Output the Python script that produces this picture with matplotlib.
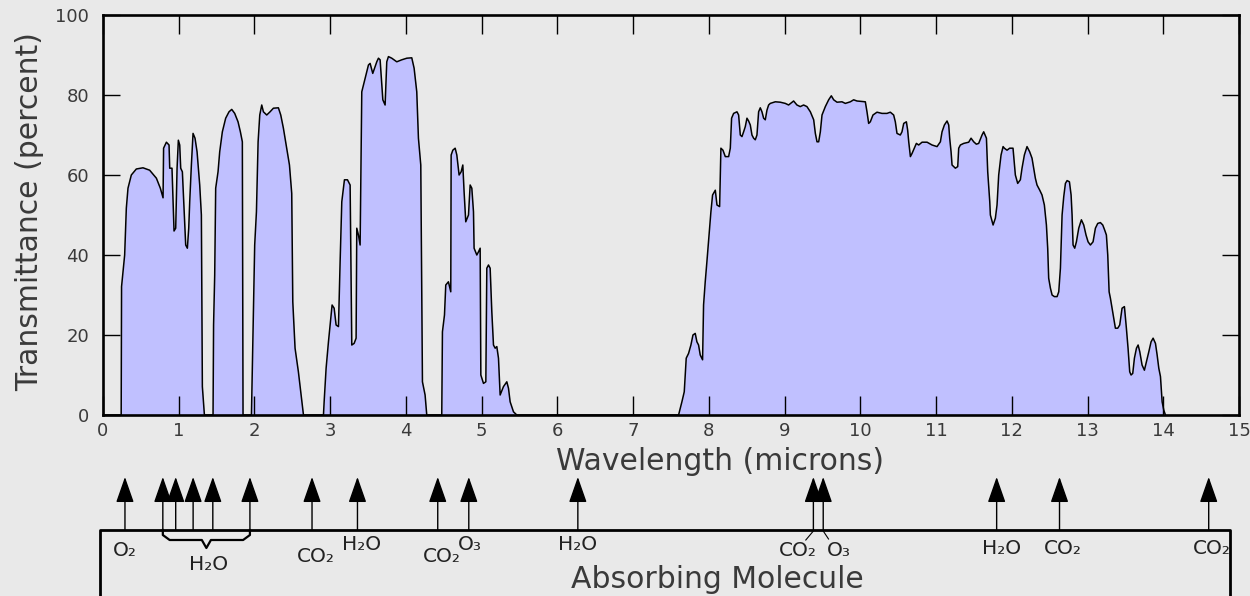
import matplotlib
matplotlib.use('Agg')
import matplotlib.pyplot as plt
from matplotlib.transforms import blended_transform_factory
from matplotlib.lines import Line2D

# transmittance curve, one window per list
# 0.2 - 2.7 microns
wl_near = [0.0, 0.24, 0.245, 0.286, 0.308, 0.33, 0.374, 0.44, 0.528, 0.616, 0.705, 0.757, 0.793,
           0.80, 0.837, 0.872, 0.881, 0.911, 0.925, 0.938, 0.96, 0.978, 0.995, 1.013, 1.026,
           1.048, 1.066, 1.092, 1.114, 1.132, 1.145, 1.167, 1.189, 1.215, 1.242, 1.277, 1.299,
           1.312, 1.339, 1.453, 1.46, 1.475, 1.488, 1.519, 1.541, 1.576, 1.62, 1.664, 1.70,
           1.739, 1.783, 1.814, 1.84, 1.849, 1.96, 1.973, 2.003, 2.026, 2.048, 2.07, 2.096,
           2.118, 2.162, 2.206, 2.25, 2.316, 2.347, 2.382, 2.426, 2.462, 2.492, 2.506, 2.536,
           2.58, 2.611, 2.647]
tr_near = [0, 0, 32.1, 40, 51.7, 56.7, 60, 61.5, 61.8, 61.2, 59.2, 56.7, 54.3,
           66.7, 68.2, 67.5, 61.7, 61.7, 53.3, 46, 46.7, 61.7, 68.7, 67.5, 61.7,
           60.8, 53.3, 42.5, 41.7, 46.7, 53.3, 62.5, 70.4, 69.2, 65.8, 57.5, 50,
           7.1, 0, 0, 22.5, 35, 56.7, 60.8, 65.8, 70.8, 74.2, 75.8, 76.4,
           75.4, 73.3, 70.8, 68.3, 0, 0, 12.5, 42.5, 50.8, 68.3, 75, 77.5,
           75.8, 75, 75.8, 76.7, 76.8, 75, 71.7, 66.7, 62.5, 55.4, 28.3, 16.7,
           10.8, 5.8, 0]

# 2.9 - 5.5 microns
wl_mid = [2.911, 2.92, 2.946, 2.977, 2.999, 3.025, 3.052, 3.078, 3.109, 3.131, 3.153, 3.188,
          3.228, 3.263, 3.285, 3.316, 3.342, 3.351, 3.373, 3.395, 3.417, 3.461, 3.505, 3.527,
          3.562, 3.593, 3.615, 3.637, 3.659, 3.695, 3.725, 3.747, 3.769, 3.813, 3.879, 3.945,
          4.012, 4.077, 4.108, 4.143, 4.165, 4.196, 4.218, 4.253, 4.275, 4.473, 4.482, 4.509,
          4.526, 4.561, 4.592, 4.597, 4.619, 4.65, 4.672, 4.702, 4.729, 4.751, 4.768, 4.79,
          4.826, 4.848, 4.87, 4.892, 4.9, 4.936, 4.958, 4.98, 4.989, 5.024, 5.055, 5.068,
          5.09, 5.112, 5.134, 5.156, 5.178, 5.2, 5.222, 5.244, 5.288, 5.332, 5.354, 5.376,
          5.42, 5.464]
tr_mid = [0, 3.3, 11.7, 18.3, 22.5, 27.5, 26.7, 22.5, 22.1, 38.3, 53.3, 58.8,
          58.8, 57.5, 17.5, 17.9, 19.2, 46.7, 45, 42.5, 80.8, 84.2, 87.5, 87.9,
          85.4, 87.1, 88.3, 89.2, 88.8, 78.8, 77.5, 88.3, 89.6, 89.2, 88.3, 88.8,
          89.2, 89.3, 86.7, 80.8, 69.2, 62.5, 8.3, 5, 0, 0, 20.8, 25,
          32.5, 33.3, 30.8, 65, 66.2, 66.7, 65, 60, 60.8, 62.5, 55.8, 48.3,
          50, 57.5, 56.7, 50.8, 41.7, 40, 40.8, 41.7, 10, 7.9, 8.3, 36.7,
          37.5, 36.7, 25.8, 17.5, 16.7, 17.1, 14.2, 5, 7.1, 8.3, 6.7, 3.3,
          0.8, 0]

# 7.6 - 14 microns
wl_far = [7.6, 7.644, 7.675, 7.701, 7.732, 7.763, 7.79, 7.82, 7.842, 7.864, 7.886, 7.917, 7.93,
          7.952, 7.974, 8.005, 8.027, 8.049, 8.085, 8.107, 8.142, 8.159, 8.186, 8.217, 8.261,
          8.283, 8.3, 8.327, 8.371, 8.393, 8.415, 8.437, 8.459, 8.481, 8.503, 8.525, 8.547,
          8.569, 8.591, 8.613, 8.635, 8.657, 8.679, 8.701, 8.723, 8.745, 8.767, 8.789, 8.811,
          8.877, 8.943, 9.009, 9.053, 9.119, 9.163, 9.207, 9.251, 9.295, 9.34, 9.384, 9.406,
          9.428, 9.45, 9.472, 9.494, 9.538, 9.582, 9.617, 9.648, 9.692, 9.758, 9.802, 9.868,
          9.912, 9.956, 10.066, 10.088, 10.11, 10.132, 10.167, 10.22, 10.286, 10.352, 10.396,
          10.44, 10.462, 10.484, 10.528, 10.55, 10.573, 10.608, 10.625, 10.639, 10.661, 10.683,
          10.713, 10.74, 10.771, 10.815, 10.881, 10.947, 11.013, 11.057, 11.079, 11.11, 11.145,
          11.167, 11.18, 11.198, 11.211, 11.255, 11.286, 11.299, 11.321, 11.365, 11.431, 11.462,
          11.497, 11.532, 11.563, 11.607, 11.629, 11.665, 11.682, 11.709, 11.717, 11.753, 11.783,
          11.805, 11.827, 11.858, 11.885, 11.902, 11.937, 11.972, 12.016, 12.047, 12.078, 12.113,
          12.135, 12.166, 12.201, 12.236, 12.267, 12.289, 12.311, 12.333, 12.369, 12.399, 12.43,
          12.457, 12.474, 12.487, 12.51, 12.532, 12.562, 12.598, 12.62, 12.642, 12.664, 12.686,
          12.708, 12.73, 12.761, 12.783, 12.796, 12.809, 12.831, 12.853, 12.884, 12.919, 12.95,
          12.98, 13.007, 13.038, 13.073, 13.104, 13.135, 13.17, 13.201, 13.227, 13.249, 13.267,
          13.285, 13.302, 13.324, 13.346, 13.368, 13.399, 13.425, 13.456, 13.487, 13.513, 13.535,
          13.557, 13.575, 13.597, 13.619, 13.646, 13.668, 13.69, 13.72, 13.751, 13.778, 13.809,
          13.839, 13.866, 13.897, 13.919, 13.941, 13.963, 13.985, 14.007, 14.029]
tr_far = [0, 3.3, 5.8, 14.2, 15.4, 17.5, 20, 20.4, 18.3, 17.5, 15, 13.8, 27.5,
          33.3, 38.3, 45.8, 50.8, 55, 56.2, 52.5, 52.1, 66.7, 66.2, 64.6, 64.6,
          66.7, 74.2, 75.4, 75.8, 75, 70, 69.6, 70.8, 72.1, 74.2, 73.5, 72.5,
          70, 69.2, 68.8, 70, 75.8, 76.8, 75.8, 74.2, 73.8, 76.2, 77.5, 77.9,
          78.3, 78.2, 77.9, 77.5, 78.5, 77.5, 77.1, 77.5, 77.1, 75.8, 73.8, 70.4,
          68.3, 68.3, 70.8, 75, 77.1, 78.8, 79.8, 78.8, 78.2, 78.3, 77.9, 78.3,
          78.8, 78.5, 78.3, 75.8, 72.9, 73.3, 75, 75.7, 75.4, 75.4, 75.7,
          75, 73.3, 70.4, 70, 70.8, 72.9, 73.3, 71.2, 68.3, 64.6, 65.4,
          66.7, 67.9, 67.5, 68.2, 68.2, 67.5, 67.1, 68.3, 70.8, 72.5, 73.5,
          72.5, 69.2, 65.8, 62.5, 61.7, 62.1, 66.7, 67.5, 67.9, 68.2, 69.2,
          68.3, 67.7, 67.9, 70, 70.8, 69.2, 60.8, 53.3, 50, 47.5, 49.2,
          52.5, 60, 65, 67.1, 66.7, 66.2, 66.7, 66.7, 60, 57.9, 58.8,
          61.7, 65, 67.1, 65.8, 64.2, 61.7, 59.2, 57.5, 56.2, 55, 52.5,
          47.5, 41.7, 34.2, 31.7, 30, 29.6, 29.6, 30.8, 36.7, 50, 54.6,
          57.9, 58.6, 58.3, 55, 50, 42.5, 41.7, 43.3, 46.7, 48.8, 47.5,
          45, 43.3, 42.5, 43.3, 46.7, 47.9, 48.1, 47.5, 46.2, 45, 40,
          30.8, 29.2, 26.7, 24.2, 21.7, 21.7, 22.5, 26.7, 27.1, 21.7, 16.7,
          10.8, 10, 10.4, 14.2, 16.7, 17.5, 15.8, 12.5, 11.2, 13.3, 15.8,
          18.3, 19.2, 17.9, 15, 11.7, 9.6, 3.3, 1.2, 0]

# absorption features marked with arrows under the chart (microns)
arrow_wl = [0.29, 0.79, 0.96, 1.19, 1.45, 1.94, 2.76, 3.36, 4.42, 4.83, 6.27,
            9.38, 9.51, 11.8, 12.63, 14.6]
mol_names = ['O₂', 'H₂O', 'CO₂', 'H₂O', 'CO₂', 'O₃', 'H₂O', 'CO₂', 'O₃', 'H₂O', 'CO₂', 'CO₂']
mol_label_wl = [0.29, 1.40, 2.81, 3.42, 4.47, 4.85, 6.26, 9.17, 9.72, 11.86, 12.67, 14.64]

BG = '#e9e9e9'
FILL = '#c0c0ff'
TXT = '#3a3a3a'
W, H = 1250, 596


def fx(px):
    return px / W


def fy(py):
    return 1 - py / H


wl = wl_near + wl_mid + wl_far
tr = tr_near + tr_mid + tr_far

fig = plt.figure(figsize=(12.5, 5.96), dpi=100, facecolor=BG)
ax = fig.add_axes([fx(103), fy(415), fx(1239 - 103), (415 - 15) / H])
ax.set_facecolor(BG)

ax.fill_between(wl, tr, 0, color=FILL, linewidth=0)
ax.plot(wl, tr, color='black', linewidth=1.1)

ax.set_xlim(0, 15)
ax.set_ylim(0, 100)
ax.set_xticks(range(0, 16))
ax.set_yticks(range(0, 101, 20))
ax.tick_params(direction='in', top=True, right=True, width=1, colors='black',
               labelcolor=TXT, labelsize=13)
ax.tick_params(axis='x', length=14, pad=5)
ax.tick_params(axis='y', length=12, pad=10)
for s in ax.spines.values():
    s.set_linewidth(1.9)

fig.text(fx(30), fy(212), 'Transmittance (percent)', rotation=90, ha='center', va='center',
         fontsize=21.5, color=TXT)
fig.text(fx(720), fy(462), 'Wavelength (microns)', ha='center', va='center',
         fontsize=21.5, color=TXT)
fig.text(fx(717), fy(580), 'Absorbing Molecule', ha='center', va='center',
         fontsize=21.5, color=TXT)

# box that holds the molecule names
fig.add_artist(Line2D([fx(100), fx(100), fx(1230), fx(1230)],
                      [fy(620), fy(530), fy(530), fy(620)],
                      transform=fig.transFigure, color='black', linewidth=2))

trans = blended_transform_factory(ax.transData, fig.transFigure)
for w in arrow_wl:
    ax.annotate('', xy=(w, fy(477)), xytext=(w, fy(530)), xycoords=trans, textcoords=trans,
                arrowprops=dict(arrowstyle='-|>,head_length=0.8,head_width=0.28', mutation_scale=20,
                                color='black', lw=1, shrinkA=0, shrinkB=0))

# brace grouping the near infrared water bands
x0, x1 = arrow_wl[1], arrow_wl[5]
xm = (x0 + x1) / 2
ax.add_line(Line2D([x0, x0, x0 + 0.09, xm - 0.06, xm, xm + 0.06, x1 - 0.09, x1, x1],
                   [fy(530), fy(535), fy(540), fy(540), fy(548), fy(540), fy(540), fy(535), fy(530)],
                   transform=trans, color='black', linewidth=1.6, clip_on=False))

# small leaders for the crowded pair at 9.4 / 9.5
ax.add_line(Line2D([arrow_wl[11], arrow_wl[11] - 0.1], [fy(531), fy(540)], transform=trans,
                   color='black', linewidth=0.8, clip_on=False))
ax.add_line(Line2D([arrow_wl[12], arrow_wl[12] + 0.07], [fy(531), fy(539)], transform=trans,
                   color='black', linewidth=0.8, clip_on=False))

label_y = [550, 564, 557, 545, 557, 544, 545, 551, 551, 549, 549, 549]
for name, w, py in zip(mol_names, mol_label_wl, label_y):
    ax.text(w, fy(py), name, transform=trans, ha='center', va='center', fontsize=14.5,
            color='#222222', clip_on=False)

fig.savefig('out.png', dpi=100, facecolor=BG)
